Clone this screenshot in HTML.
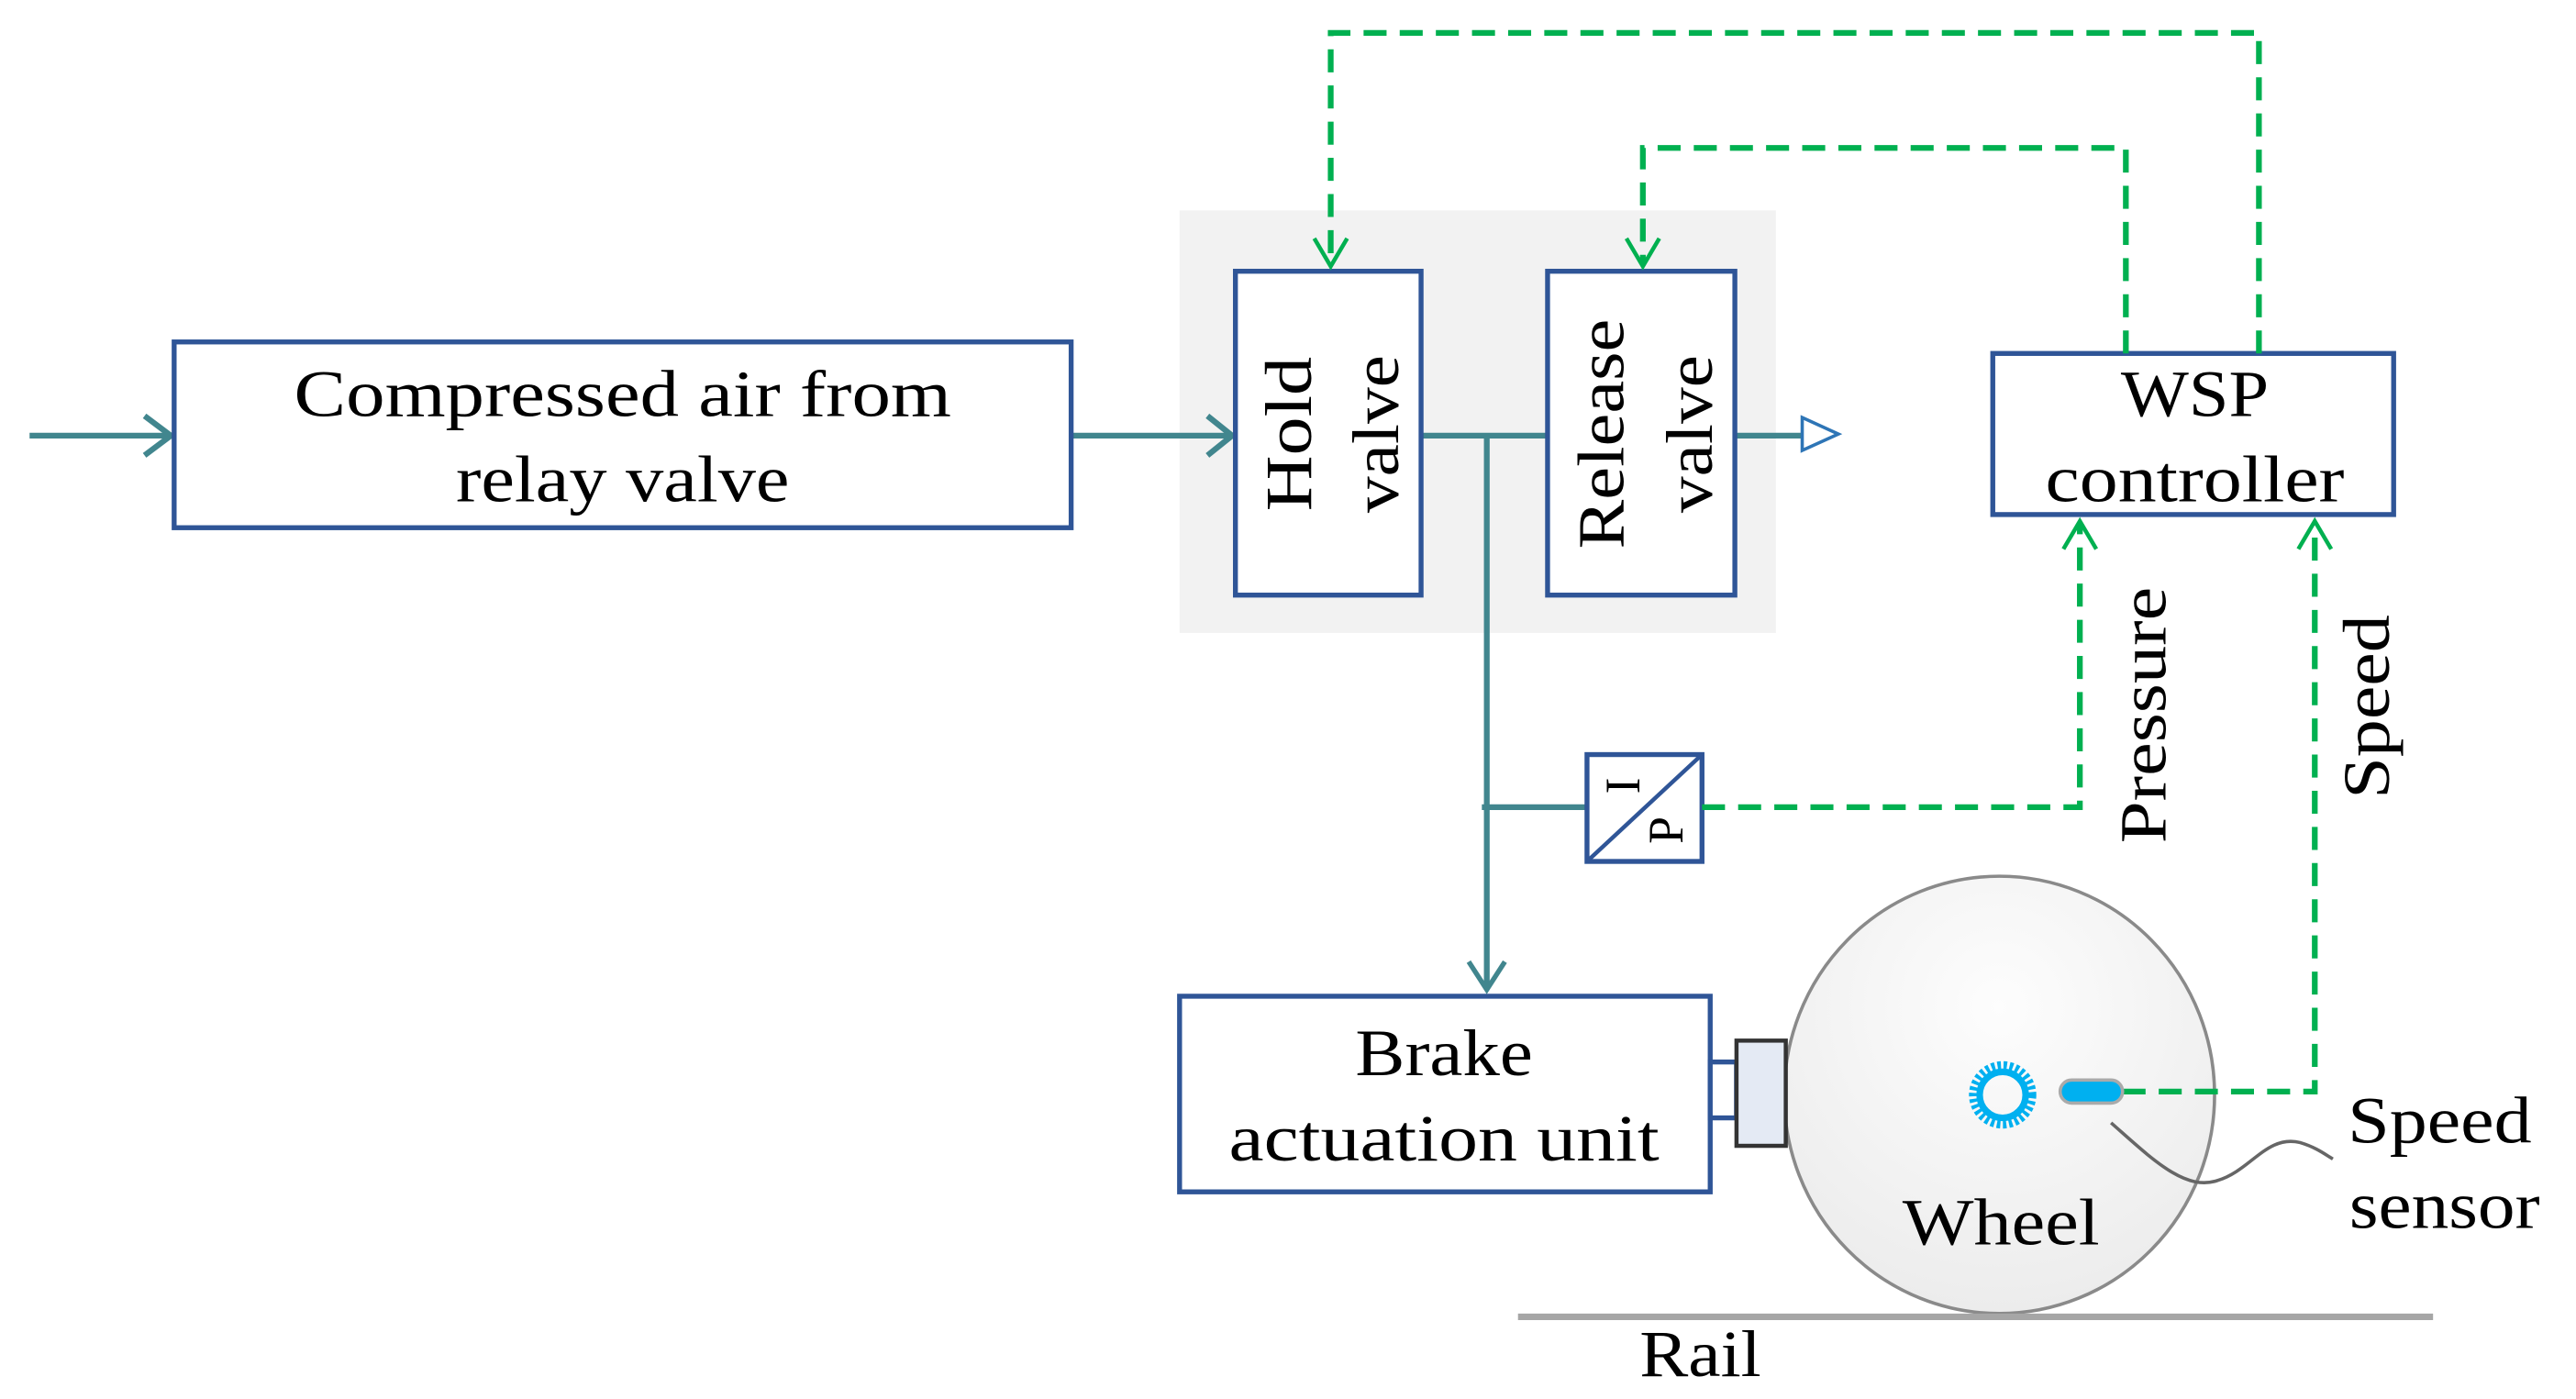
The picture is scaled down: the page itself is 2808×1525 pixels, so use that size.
<!DOCTYPE html>
<html><head><meta charset="utf-8"><style>html,body{margin:0;padding:0;background:#fff}svg{display:block}</style></head>
<body>
<svg width="2808" height="1525" viewBox="0 0 1568 851" preserveAspectRatio="none" xmlns="http://www.w3.org/2000/svg" font-family="'Liberation Serif', serif" fill="#000">
<defs>
<radialGradient id="wg" cx="0.5" cy="0.3" r="0.7"><stop offset="0" stop-color="#fdfdfd"/><stop offset="1" stop-color="#ececec"/></radialGradient>
</defs>
<rect x="718" y="128" width="363" height="257" fill="#f2f2f2"/>
<g fill="none" stroke="#41868e" stroke-width="3.5">
<line x1="18" y1="265" x2="104" y2="265"/>
<polyline points="88,253 104,265 88,277"/>
<line x1="652" y1="265" x2="750" y2="265"/>
<polyline points="735,253 750,265 735,277"/>
<line x1="865" y1="265" x2="942" y2="265"/>
<line x1="1056" y1="265" x2="1097" y2="265"/>
<line x1="905" y1="265" x2="905" y2="602"/>
<polyline points="894,585 905,602 916,585" stroke-width="3"/>
<line x1="902" y1="491" x2="966" y2="491"/>
</g>
<polygon points="1097,254 1119,264 1097,274" fill="#fff" stroke="#2e75b6" stroke-width="2"/>
<g fill="#fff" stroke="#2f5597" stroke-width="3">
<rect x="106" y="208" width="546" height="113"/>
<rect x="752" y="165" width="113" height="197"/>
<rect x="942" y="165" width="114" height="197"/>
<rect x="1213" y="215" width="244" height="98"/>
<rect x="718" y="606" width="323" height="119"/>
<rect x="966" y="459" width="70" height="65"/>
<rect x="1041" y="646" width="16" height="34"/>
</g>
<line x1="966" y1="524" x2="1036" y2="459" stroke="#2f5597" stroke-width="2.5"/>
<ellipse cx="1217" cy="666" rx="131" ry="133" fill="url(#wg)" stroke="#8a8a8a" stroke-width="2"/>
<rect x="1057" y="633" width="30" height="64" fill="#e4eaf4" stroke="#333" stroke-width="2.5"/>
<g fill="none" stroke="#00b050" stroke-width="3.5" stroke-dasharray="14,8">
<polyline points="1375,215 1375,20 810,20 810,160"/>
<polyline points="1294,215 1294,90 1000,90 1000,160"/>
<polyline points="1036,491 1266,491 1266,318"/>
<polyline points="1292,664 1409,664 1409,318"/>
</g>
<g fill="none" stroke="#00b050" stroke-width="2.5">
<polyline points="800,145 810,162 820,145"/>
<polyline points="990,145 1000,162 1010,145"/>
<polyline points="1256,334 1266,317 1276,334"/>
<polyline points="1399,334 1409,317 1419,334"/>
</g>
<circle cx="1219" cy="666" r="17" fill="none" stroke="#00b0f0" stroke-width="7" stroke-dasharray="2,1.5"/>
<circle cx="1219" cy="666" r="14" fill="none" stroke="#00b0f0" stroke-width="4"/>
<rect x="1254" y="657" width="38" height="14" rx="7" fill="#00b0f0" stroke="#aaa" stroke-width="2"/>
<path d="M1285,683 C1310,705 1330,725 1350,718 C1370,712 1380,690 1400,695 C1410,698 1415,702 1420,705" fill="none" stroke="#666" stroke-width="2"/>
<line x1="924" y1="801" x2="1481" y2="801" stroke="#a6a6a6" stroke-width="4"/>
<g font-size="40" text-anchor="middle">
<text x="379" y="253" textLength="400" lengthAdjust="spacingAndGlyphs">Compressed  air from</text>
<text x="379" y="305" textLength="203" lengthAdjust="spacingAndGlyphs">relay valve</text>
<text x="1336" y="253" textLength="90" lengthAdjust="spacingAndGlyphs">WSP</text>
<text x="1336" y="305" textLength="182" lengthAdjust="spacingAndGlyphs">controller</text>
<text x="879" y="654" textLength="108" lengthAdjust="spacingAndGlyphs">Brake</text>
<text x="879" y="706" textLength="262" lengthAdjust="spacingAndGlyphs">actuation unit</text>
<text x="1218" y="757" textLength="120" lengthAdjust="spacingAndGlyphs">Wheel</text>
<text x="1035" y="837" textLength="74" lengthAdjust="spacingAndGlyphs">Rail</text>
<text x="1485" y="695" textLength="112" lengthAdjust="spacingAndGlyphs">Speed</text>
<text x="1488" y="747" textLength="116" lengthAdjust="spacingAndGlyphs">sensor</text>
<text transform="translate(798,264) rotate(-90)" textLength="94" lengthAdjust="spacingAndGlyphs">Hold</text>
<text transform="translate(851,264) rotate(-90)" textLength="96" lengthAdjust="spacingAndGlyphs">valve</text>
<text transform="translate(988,264) rotate(-90)" textLength="140" lengthAdjust="spacingAndGlyphs">Release</text>
<text transform="translate(1042,264) rotate(-90)" textLength="96" lengthAdjust="spacingAndGlyphs">valve</text>
<text transform="translate(1318,435) rotate(-90)" textLength="156" lengthAdjust="spacingAndGlyphs">Pressure</text>
<text transform="translate(1454,430) rotate(-90)" textLength="112" lengthAdjust="spacingAndGlyphs">Speed</text>
</g>
<g font-size="30" text-anchor="middle">
<text transform="translate(998,478) rotate(-90)">I</text>
<text transform="translate(1024,505) rotate(-90)">P</text>
</g>
</svg>
</body></html>
